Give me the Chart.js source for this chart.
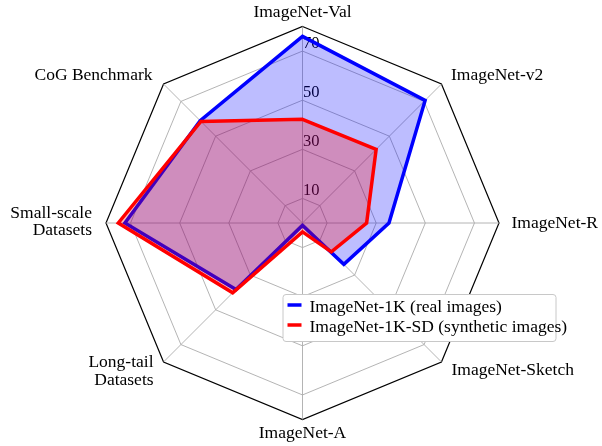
<!DOCTYPE html>
<html>
<head>
<meta charset="utf-8">
<script src="https://cdn.jsdelivr.net/npm/chart.js@4"></script>
<style>
  html, body { margin: 0; padding: 0; background: #fff; }
  #wrap { width: 602px; height: 446px; }
</style>
</head>
<body>
<div id="wrap"><canvas id="radar" width="602" height="446"></canvas></div>
<script>
// Benchmarks around the radar, clockwise from the top
const axes = [
  'ImageNet-Val', 'ImageNet-v2', 'ImageNet-R', 'ImageNet-Sketch',
  'ImageNet-A', ['Long-tail', 'Datasets'], ['Small-scale', 'Datasets'], 'CoG Benchmark'
];
// Accuracy (%) per benchmark
const realImages = [76.0, 70.6, 35.2, 23.8, 1.0, 38.3, 72.3, 58.9];
const syntheticImages = [42.2, 42.4, 26.1, 16.6, 3.6, 40.2, 75.0, 58.5];
const seriesNames = ['ImageNet-1K (real images)', 'ImageNet-1K-SD (synthetic images)'];
// Rings of the radial scale and the ones carrying a number
const ringValues = [0, 10, 30, 50, 70, 80];
const labelledTicks = [10, 30, 50, 70];

const SERIF = '"Liberation Serif", "DejaVu Serif", serif';
const BLUE = '#0000ff';
const RED = '#ff0000';

// Numbers on the vertical axis, painted under the filled areas
const tickLabelPlugin = {
  id: 'tickLabels',
  beforeDatasetsDraw(chart) {
    const s = chart.scales.r;
    const ctx = chart.ctx;
    ctx.save();
    ctx.font = '16.5px ' + SERIF;
    ctx.fillStyle = '#000';
    ctx.textAlign = 'left';
    ctx.textBaseline = 'alphabetic';
    labelledTicks.forEach(v => {
      const d = s.getDistanceFromCenterForValue(v);
      ctx.fillText(String(v), s.xCenter + 0.5, s.yCenter - d - 3);
    });
    ctx.restore();
  }
};

// Benchmark names at the outer corners
const axisNamePlugin = {
  id: 'axisNames',
  afterDraw(chart) {
    const s = chart.scales.r;
    const ctx = chart.ctx;
    const place = [
      {align: 'center', dx: 0, dy: -9.5},
      {align: 'left', dx: 9.5, dy: -4},
      {align: 'left', dx: 12.5, dy: 4.5},
      {align: 'left', dx: 10, dy: 13.5},
      {align: 'center', dx: 0, dy: 18},
      {align: 'right', dx: -10, dy: 5.5},
      {align: 'right', dx: -14, dy: -5.5},
      {align: 'right', dx: -11, dy: -4}
    ];
    ctx.save();
    ctx.font = '17.5px ' + SERIF;
    ctx.fillStyle = '#000';
    ctx.textBaseline = 'alphabetic';
    axes.forEach((name, i) => {
      const p = s.getPointPosition(i, s.drawingArea);
      const o = place[i];
      ctx.textAlign = o.align;
      const lines = Array.isArray(name) ? name : [name];
      lines.forEach((ln, k) => {
        ctx.fillText(ln, p.x + o.dx, p.y + o.dy + k * 17.5);
      });
    });
    ctx.restore();
  }
};

// Boxed legend sitting over the lower right of the radar
const legendBoxPlugin = {
  id: 'legendBox',
  afterDraw(chart) {
    const ctx = chart.ctx;
    const x = 283, y = 294.5, w = 273, h = 47;
    ctx.save();
    ctx.beginPath();
    ctx.roundRect(x, y, w, h, 3);
    ctx.fillStyle = '#fff';
    ctx.fill();
    ctx.lineWidth = 1;
    ctx.strokeStyle = '#c8c8c8';
    ctx.stroke();
    const colors = [BLUE, RED];
    ctx.font = '17.5px ' + SERIF;
    ctx.textAlign = 'left';
    ctx.textBaseline = 'alphabetic';
    seriesNames.forEach((name, i) => {
      const ly = y + 10.5 + i * 20;
      ctx.beginPath();
      ctx.moveTo(x + 4.5, ly);
      ctx.lineTo(x + 18.5, ly);
      ctx.lineWidth = 3.5;
      ctx.strokeStyle = colors[i];
      ctx.stroke();
      ctx.fillStyle = '#000';
      ctx.fillText(name, x + 26.5, ly + 7);
    });
    ctx.restore();
  }
};

new Chart(document.getElementById('radar'), {
  type: 'radar',
  data: {
    labels: axes,
    datasets: [
      {
        label: seriesNames[0],
        data: realImages,
        borderColor: BLUE,
        backgroundColor: 'rgba(0,0,255,0.26)',
        borderWidth: 3.5,
        fill: true,
        order: 1
      },
      {
        label: seriesNames[1],
        data: syntheticImages,
        borderColor: RED,
        backgroundColor: 'rgba(255,0,0,0.26)',
        borderWidth: 3.5,
        fill: true,
        order: 0
      }
    ]
  },
  options: {
    responsive: false,
    animation: false,
    devicePixelRatio: 1,
    layout: { padding: 0 },
    elements: {
      point: { radius: 0, hoverRadius: 0 },
      line: { tension: 0, borderJoinStyle: 'miter' }
    },
    plugins: {
      legend: { display: false },
      tooltip: { enabled: false }
    },
    scales: {
      r: {
        min: 0,
        max: 80,
        afterBuildTicks: s => { s.ticks = ringValues.map(v => ({ value: v })); },
        afterFit: s => { s.xCenter = 302.5; s.yCenter = 223; s.drawingArea = 196.5; },
        ticks: { display: false },
        pointLabels: { display: false },
        grid: {
          color: c => (c.tick && c.tick.value === 80 ? '#000' : '#ababab'),
          lineWidth: c => (c.tick && c.tick.value === 80 ? 1.2 : 0.9)
        },
        angleLines: { color: '#ababab', lineWidth: 0.9 }
      }
    }
  },
  plugins: [tickLabelPlugin, axisNamePlugin, legendBoxPlugin]
});
</script>
</body>
</html>
